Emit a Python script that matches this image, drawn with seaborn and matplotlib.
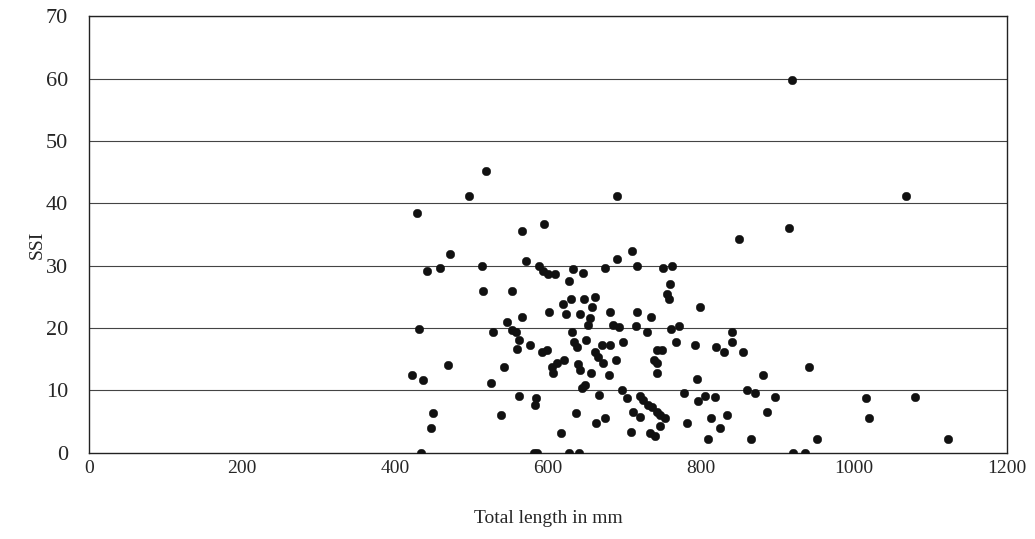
import matplotlib
matplotlib.use("Agg")
import matplotlib.pyplot as plt
import seaborn as sns
import pandas as pd

# Total length (mm) of each fish and its SSI value
total_length = [
    519, 497, 429, 595, 566, 472, 571, 514, 459, 442, 588, 593, 600, 609, 633, 646,
    627, 515, 553, 620, 630, 647, 661, 601, 624, 642, 566, 658, 655, 652, 546, 431,
    528, 553, 558, 631, 562, 559, 576, 634, 638, 650, 592, 599, 661, 469, 542, 605,
    612, 621, 607, 639, 642, 422, 437, 525, 656, 648, 644, 667, 562, 584, 583, 450,
    539, 637, 663, 447, 617, 434, 582, 586, 627, 641,
    690, 850, 710, 690, 675, 716, 750, 762, 759, 756, 758, 681, 716, 735, 799, 685,
    693, 715, 729, 761, 771, 841, 841, 671, 681, 698, 767, 792, 820, 830, 855, 665,
    672, 742, 749, 739, 742, 689, 680, 742, 795, 881, 697, 703, 720, 724, 731, 736,
    778, 796, 805, 818, 860, 871, 897, 711, 720, 742, 746, 753, 675, 746, 782, 813,
    834, 825, 886, 708, 733, 740, 809, 865,
    1068, 915, 941, 1016, 1080, 1020, 952, 1123, 920, 936, 919,
]
ssi = [
    45.1, 41.1, 38.4, 36.6, 35.6, 31.8, 30.7, 30.0, 29.7, 29.1, 29.9, 29.1, 28.7, 28.6, 29.4, 28.9,
    27.6, 26.0, 26.0, 23.9, 24.7, 24.6, 25.0, 22.6, 22.2, 22.3, 21.8, 23.4, 21.6, 20.5, 20.9, 19.9,
    19.4, 19.7, 19.4, 19.4, 18.1, 16.7, 17.3, 17.8, 16.9, 18.1, 16.2, 16.5, 16.2, 14.0, 13.8, 13.8,
    14.4, 14.8, 12.8, 14.3, 13.3, 12.4, 11.7, 11.2, 12.8, 10.9, 10.4, 9.3, 9.1, 8.7, 7.7, 6.4,
    6.1, 6.3, 4.7, 4.0, 3.2, 0.0, 0.0, 0.0, 0.0, 0.0,
    41.1, 34.2, 32.4, 31.1, 29.7, 29.9, 29.7, 29.9, 27.0, 25.5, 24.6, 22.5, 22.6, 21.8, 23.4, 20.5,
    20.1, 20.4, 19.3, 19.9, 20.4, 19.4, 17.7, 17.3, 17.2, 17.8, 17.8, 17.2, 16.9, 16.1, 16.1, 15.4,
    14.4, 16.5, 16.5, 14.9, 14.4, 14.9, 12.4, 12.8, 11.9, 12.4, 10.0, 8.7, 9.1, 8.5, 7.7, 7.4,
    9.6, 8.3, 9.1, 9.0, 10.0, 9.6, 9.0, 6.6, 5.8, 6.6, 6.1, 5.6, 5.5, 4.3, 4.7, 5.6,
    6.1, 3.9, 6.6, 3.4, 3.2, 2.7, 2.2, 2.2,
    41.1, 36.0, 13.8, 8.7, 9.0, 5.6, 2.2, 2.2, 0.0, 0.0, 59.7,
]

x_ticks = [0, 200, 400, 600, 800, 1000, 1200]
y_ticks = [0, 10, 20, 30, 40, 50, 60, 70]

df = pd.DataFrame({"Total length in mm": total_length, "SSI": ssi})

sns.set_style("white")
plt.rcParams["font.family"] = ["Liberation Serif", "DejaVu Serif"]

fig = plt.figure(figsize=(10.35, 5.39), dpi=100)
ax = fig.add_axes([0.086, 0.160, 0.887, 0.810])

sns.scatterplot(data=df, x="Total length in mm", y="SSI", ax=ax,
                color="#111111", edgecolor="#111111", s=38, linewidth=0.3,
                zorder=3, legend=False)

ax.set_xlim(0, 1200)
ax.set_ylim(0, 70)
ax.set_xticks(x_ticks)
ax.set_yticks(y_ticks)
ax.tick_params(axis="x", direction="in", length=4, width=0.8, color="#333333",
               labelsize=14, pad=5)
ax.tick_params(axis="y", length=0, labelsize=16, pad=15)

# horizontal reference lines only
for v in y_ticks[1:]:
    ax.axhline(v, color="#444444", linewidth=0.8, zorder=1)

for side in ["left", "right", "top", "bottom"]:
    ax.spines[side].set_visible(True)
    ax.spines[side].set_color("#222222")
    ax.spines[side].set_linewidth(1.0)

ax.set_xlabel("Total length in mm", fontsize=14)
ax.set_ylabel("SSI", fontsize=14)
ax.xaxis.set_label_coords(0.5, -0.132)
ax.yaxis.set_label_coords(-0.047, 0.476)

fig.savefig("out.png", dpi=100)
